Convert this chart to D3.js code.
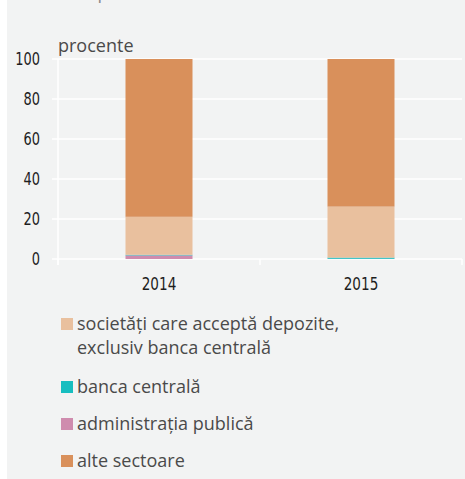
<!DOCTYPE html>
<html>
<head>
<meta charset="utf-8">
<script src="https://cdn.jsdelivr.net/npm/d3@7"></script>
<style>
  html, body { margin: 0; padding: 0; background: #ffffff; }
  svg { display: block; }
</style>
</head>
<body>
<svg id="chart" width="465" height="479"></svg>
<script>
const years = ["2014", "2015"];
const seriesKeys = ["admin", "banca", "societati", "alte"];
const seriesLabels = {
  societati: ["societăți care acceptă depozite,", "exclusiv banca centrală"],
  banca: ["banca centrală"],
  admin: ["administrația publică"],
  alte: ["alte sectoare"],
};
const seriesColors = {
  admin: "#cf8cae",
  banca: "#17bec0",
  societati: "#e9c09e",
  alte: "#d9905b",
};
const adminValues = [1.8, 0.1];
const bancaValues = [0.3, 0.6];
const societatiValues = [19.0, 25.5];
const alteValues = [78.9, 73.8];
const yTicks = [0, 20, 40, 60, 80, 100];
const legendOrder = ["societati", "banca", "admin", "alte"];

const rows = years.map((year, i) => ({
  year,
  admin: adminValues[i],
  banca: bancaValues[i],
  societati: societatiValues[i],
  alte: alteValues[i],
}));

const svg = d3.select("#chart");
const W = 465, H = 479;
const tickFont = "'Liberation Sans Narrow', 'DejaVu Sans Condensed', sans-serif";
const textFont = "'Open Sans', 'Noto Sans', sans-serif";

svg.append("rect").attr("x", 7).attr("y", 0).attr("width", W - 7).attr("height", H).attr("fill", "#f2f3f3");

// title: only its lower edge is inside the crop
svg.append("text")
  .attr("x", 16).attr("y", -1)
  .attr("fill", "#8a8a8a")
  .style("font-family", textFont)
  .style("font-size", "18px")
  .text("structura pe sectorul emitent");

const margin = { left: 58, right: 3 };
const plotW = W - margin.left - margin.right;

const y = d3.scaleLinear().domain([0, 100]).range([259, 59]);
const x = d3.scaleBand().domain(years).range([margin.left, margin.left + plotW]).paddingInner(0).paddingOuter(0);

const root = svg.append("g");

// gridlines
root.append("g").selectAll("line").data(yTicks).join("line")
  .attr("x1", 52).attr("x2", margin.left + plotW)
  .attr("y1", (d) => y(d)).attr("y2", (d) => y(d))
  .attr("stroke", "#ffffff").attr("stroke-width", 1.5);

root.append("line")
  .attr("x1", margin.left).attr("x2", margin.left)
  .attr("y1", y(100)).attr("y2", y(0) + 6)
  .attr("stroke", "#ffffff").attr("stroke-width", 1.5);

// category boundary ticks
const bounds = years.map((d) => x(d)).concat([x(years[years.length - 1]) + x.bandwidth()]);
root.append("g").selectAll("line").data(bounds).join("line")
  .attr("x1", (d) => d).attr("x2", (d) => d)
  .attr("y1", y(0)).attr("y2", y(0) + 6)
  .attr("stroke", "#ffffff").attr("stroke-width", 1.5);

// y axis labels (condensed look)
const gy = root.append("g").attr("transform", "translate(40,0)")
  .call(d3.axisLeft(y).tickValues(yTicks).tickSize(0).tickPadding(0));
gy.select(".domain").remove();
gy.selectAll("text")
  .attr("fill", "#1e1e1e")
  .attr("transform", "scale(0.8,1)")
  .style("font-family", tickFont)
  .style("font-size", "18px")
  .style("font-weight", "500");

// x axis labels
const gx = root.append("g").attr("transform", `translate(0,${y(0)})`)
  .call(d3.axisBottom(x).tickSize(0).tickPadding(18));
gx.select(".domain").remove();
gx.selectAll("text")
  .attr("fill", "#1e1e1e")
  .attr("transform", "scale(0.84,1)")
  .style("font-family", tickFont)
  .style("font-size", "18px")
  .style("font-weight", "500");

// stacked bars
const stack = d3.stack().keys(seriesKeys)(rows);
const barW = 67;
root.append("g").selectAll("g").data(stack).join("g")
  .attr("fill", (s) => seriesColors[s.key])
  .selectAll("rect").data((s) => s).join("rect")
  .attr("x", (d) => x(d.data.year) + x.bandwidth() / 2 - barW / 2)
  .attr("width", barW)
  .attr("y", (d) => y(d[1]))
  .attr("height", (d) => Math.max(0, y(d[0]) - y(d[1])));

// unit label
svg.append("text")
  .attr("x", 58).attr("y", 52)
  .attr("fill", "#4a4a4a")
  .style("font-family", textFont)
  .style("font-size", "18px")
  .text("procente");

// legend
const legendY = [330, 393, 430, 467];
const legend = svg.append("g");
legendOrder.forEach((key, i) => {
  const g = legend.append("g").attr("transform", `translate(61,${legendY[i]})`);
  g.append("rect").attr("x", 0).attr("y", -12).attr("width", 12).attr("height", 12).attr("fill", seriesColors[key]);
  const t = g.append("text")
    .attr("x", 16).attr("y", 0)
    .attr("fill", "#4a4a4a")
    .style("font-family", textFont)
    .style("font-size", "18px");
  seriesLabels[key].forEach((line, j) => {
    t.append("tspan").attr("x", 16).attr("dy", j === 0 ? 0 : 24).text(line);
  });
});
</script>
</body>
</html>
